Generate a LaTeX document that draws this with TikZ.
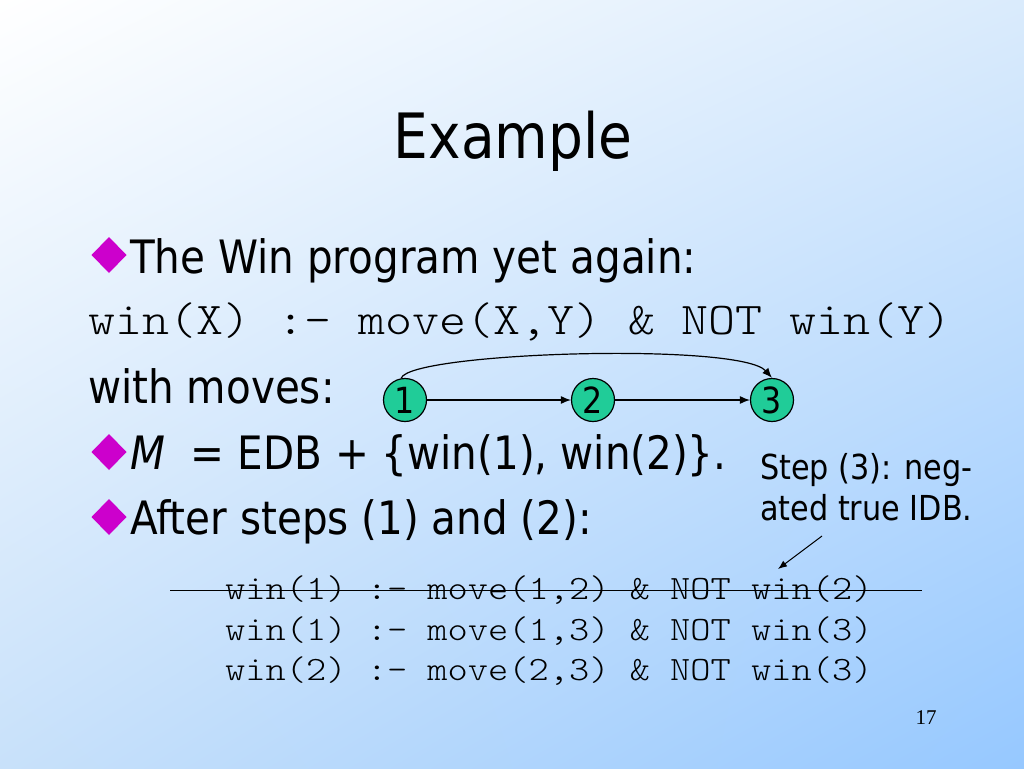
\documentclass[tikz,border=0pt]{standalone}
\usepackage{fontspec}
\setmainfont{DejaVu Sans}[FakeStretch=0.88,Ligatures=NoCommon]
\newfontfamily\codefont{lmmonolt10-regular.otf}[FakeStretch=1.13]
\newfontfamily\pagenumfont{Liberation Serif}
\usetikzlibrary{arrows.meta,shadings}
\definecolor{bgtl}{RGB}{255,255,255}
\definecolor{bgtr}{RGB}{218,235,252}
\definecolor{bgbl}{RGB}{200,225,250}
\definecolor{bgbr}{RGB}{150,200,255}
\definecolor{bulletc}{RGB}{204,0,204}
\definecolor{nodec}{RGB}{32,204,152}
\tikzset{
  txt/.style={anchor=base west, inner sep=0pt, font=\fontsize{46}{46}\selectfont},
  codebig/.style={anchor=base west, inner sep=0pt, font=\codefont\fontsize{45.5}{45.5}\selectfont},
  codesmall/.style={anchor=base west, inner sep=0pt, font=\codefont\fontsize{34.1}{34.1}\selectfont},
  note/.style={anchor=base west, inner sep=0pt, font=\fontsize{34.4}{34.4}\selectfont},
  vertex/.style={circle, draw=black, line width=1.2pt, fill=nodec, minimum size=43pt, inner sep=0pt, font=\fontsize{36}{36}\selectfont},
  edge/.style={line width=1.2pt, -{Latex[length=10pt,width=8pt]}},
  bulletdia/.style={fill=bulletc}
}
\newcommand{\bulletat}[2]{\fill[bulletdia] (#1-17.5,#2) -- (#1,#2-18) -- (#1+17.5,#2) -- (#1,#2+18) -- cycle;}
\begin{document}
\begin{tikzpicture}[x=1pt,y=-1pt]
\shade[upper left=bgtl, upper right=bgtr, lower left=bgbl, lower right=bgbr] (0,0) rectangle (1024,768);
\useasboundingbox (0,0) rectangle (1024,768);
\node[anchor=base, inner sep=0pt, font=\fontsize{62.5}{62.5}\selectfont] (title) at (513,158) {Example};
\bulletat{109}{255}
\node[txt] (b1) at (130,273) {The Win program yet again:};
\node[codebig] (rule) at (88,334) {win(X) :- move(X,Y) \& NOT win(Y)};
\node[txt] (moves) at (88,403) {with moves:};
\node[vertex] (n1) at (405,400) {1};
\node[vertex] (n2) at (593,400) {2};
\node[vertex] (n3) at (772,400) {3};
\draw[edge] (n1) -- (n2);
\draw[edge] (n2) -- (n3);
\draw[edge] (n1.100) .. controls (410,352) and (740,342) .. (n3.north);
\bulletat{109}{452}
\node[txt] (b2) at (130,469) {\textit{M}\ \ = EDB + \{win(1), win(2)\}.};
\bulletat{109}{517}
\node[txt] (b3) at (130,534) {After steps (1) and (2):};
\node[note] (s1) at (760,479) {Step (3): neg-};
\node[note] (s2) at (760,520) {ated true IDB.};
\coordinate (atail) at (822,536);
\coordinate (ahead) at (778,569);
\draw[line width=1pt, -{Latex[length=9pt,width=7pt]}] (atail) -- (ahead);
\node[codesmall] (c1) at (225,599) {win(1) :- move(1,2) \& NOT win(2)};
\node[codesmall] (c2) at (225,640) {win(1) :- move(1,3) \& NOT win(3)};
\node[codesmall] (c3) at (225,680) {win(2) :- move(2,3) \& NOT win(3)};
\coordinate (sl) at (170,590);
\coordinate (sr) at (922,590);
\draw[line width=1pt] (sl) -- (sr);
\node[inner sep=0pt, font=\pagenumfont\fontsize{21}{21}\selectfont] (pg) at (926,718) {17};
\end{tikzpicture}
\end{document}
